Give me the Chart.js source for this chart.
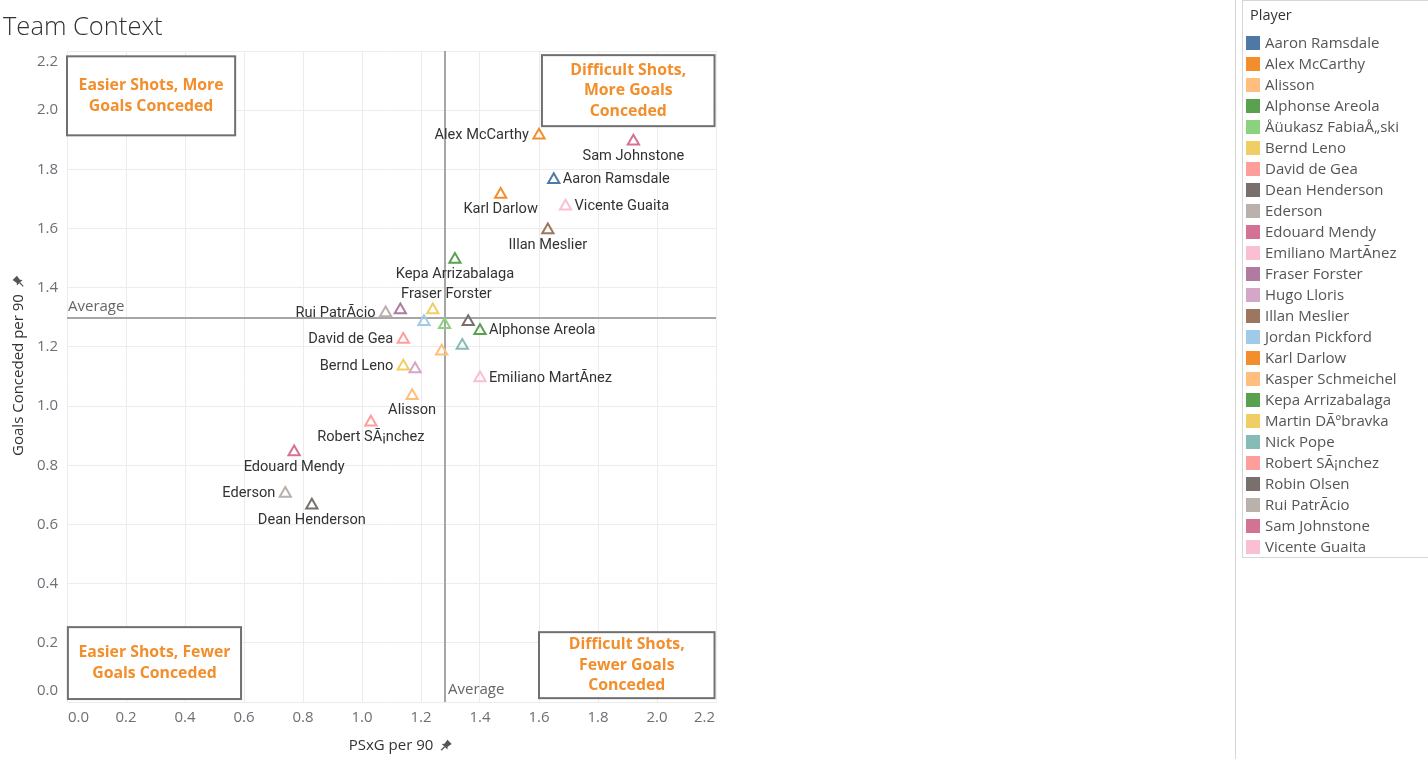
<!DOCTYPE html>
<html><head><meta charset="utf-8">
<script src="https://cdn.jsdelivr.net/npm/chart.js@4.4.1/dist/chart.umd.min.js"></script>
<style>
html,body{margin:0;padding:0;background:#fff;width:1428px;height:759px;overflow:hidden;}
#title{position:absolute;left:3px;top:7px;font-family:"Open Sans","Noto Sans",sans-serif;font-weight:300;font-size:25.5px;color:#333;line-height:36px;white-space:nowrap;}
#cv{position:absolute;left:0;top:0;}
#sep{position:absolute;left:1235px;top:0;width:1px;height:759px;background:#d6d6d6;}
#legend{position:absolute;left:1242px;top:0;width:190px;height:558px;border:1px solid #d6d6d6;box-sizing:border-box;font-family:"Open Sans","Noto Sans",sans-serif;font-size:15px;color:#555;}
#legend .hd{height:31px;line-height:28px;padding-left:7px;color:#333;font-size:14.5px;}
#legend .it{height:21px;line-height:21px;position:relative;padding-left:22px;white-space:nowrap;}
#legend .sw{position:absolute;left:3px;top:4px;width:14px;height:14px;}
</style></head>
<body>
<canvas id="cv" width="1428" height="759"></canvas>
<div id="title">Team Context</div>
<div id="sep"></div>
<div id="legend"><div class="hd">Player</div></div>
<script>
// ---------- data ----------
const players = ["Aaron Ramsdale","Alex McCarthy","Alisson","Alphonse Areola","Åüukasz FabiaÅ„ski","Bernd Leno","David de Gea","Dean Henderson","Ederson","Edouard Mendy","Emiliano MartÃnez","Fraser Forster","Hugo Lloris","Illan Meslier","Jordan Pickford","Karl Darlow","Kasper Schmeichel","Kepa Arrizabalaga","Martin DÃºbravka","Nick Pope","Robert SÃ¡nchez","Robin Olsen","Rui PatrÃcio","Sam Johnstone","Vicente Guaita"];
const colors = ["#4e79a7","#f28e2b","#ffbe7d","#59a14f","#8cd17d","#f1ce63","#ff9d9a","#79706e","#bab0ac","#d37295","#fabfd2","#b07aa1","#d4a6c8","#9d7660","#a0cbe8","#f28e2b","#ffbe7d","#59a14f","#f1ce63","#86bcb6","#ff9d9a","#79706e","#bab0ac","#d37295","#fabfd2"];
const psxgPer90 = [1.65,1.60,1.17,1.40,1.28,1.14,1.14,0.83,0.74,0.77,1.40,1.13,1.18,1.63,1.21,1.47,1.27,1.315,1.24,1.34,1.03,1.36,1.08,1.92,1.69];
const goalsConcededPer90 = [1.765,1.915,1.035,1.255,1.275,1.135,1.225,0.665,0.705,0.845,1.095,1.325,1.125,1.595,1.285,1.715,1.185,1.495,1.325,1.205,0.945,1.285,1.315,1.895,1.675];
const showLabel = [true,true,true,true,false,true,true,true,true,true,true,true,false,true,false,true,false,true,false,false,true,false,true,true,true];
const xTickValues = [0,0.2,0.4,0.6,0.8,1.0,1.2,1.4,1.6,1.8,2.0,2.2];
const xTickLabels = ["0.0","0.2","0.4","0.6","0.8","1.0","1.2","1.4","1.6","1.8","2.0","2.2"];
const yTickValues = [0,0.2,0.4,0.6,0.8,1.0,1.2,1.4,1.6,1.8,2.0,2.2];
const yTickLabels = ["0.0","0.2","0.4","0.6","0.8","1.0","1.2","1.4","1.6","1.8","2.0","2.2"];
const avgPsxg = 1.28;
const avgGoals = 1.297;
const quadrantTexts = [["Easier Shots, More","Goals Conceded"],["Difficult Shots,","More Goals","Conceded"],["Easier Shots, Fewer","Goals Conceded"],["Difficult Shots,","Fewer Goals","Conceded"]];
const xTitle = "PSxG per 90";
const yTitle = "Goals Conceded per 90";

// ---------- styling / placement ----------
const quadrantBoxes = [ // in axis units: x0,x1,y0,y1
  [0.0,0.57,1.915,2.182],[1.61,2.195,1.946,2.186],[0.003,0.59,0.01,0.253],[1.60,2.195,0.013,0.236]];
const labelPlace = {"Aaron Ramsdale":"R","Alex McCarthy":"L","Alisson":"B","Alphonse Areola":"R","Bernd Leno":"L","David de Gea":"L","Dean Henderson":"B","Ederson":"L","Edouard Mendy":"B","Emiliano MartÃnez":"R","Fraser Forster":"AR","Illan Meslier":"B","Karl Darlow":"B","Kepa Arrizabalaga":"B","Robert SÃ¡nchez":"B","Rui PatrÃcio":"L","Sam Johnstone":"B","Vicente Guaita":"R"};

// legend
const lg = document.getElementById('legend');
players.forEach((p,i)=>{
  const d=document.createElement('div');d.className='it';
  d.innerHTML='<span class="sw" style="background:'+colors[i]+'"></span>'+p;
  lg.appendChild(d);
});

function drawPin(ctx,x,y,rot){
  ctx.save();ctx.translate(x,y);ctx.rotate(rot);
  ctx.fillStyle='#555';ctx.strokeStyle='#555';ctx.lineWidth=1.2;
  ctx.beginPath();ctx.moveTo(-3,-6);ctx.lineTo(3,-6);ctx.lineTo(2.2,-1);ctx.lineTo(4,1);ctx.lineTo(-4,1);ctx.lineTo(-2.2,-1);ctx.closePath();ctx.fill();
  ctx.beginPath();ctx.moveTo(0,1);ctx.lineTo(0,6);ctx.stroke();
  ctx.restore();
}

const decor = {
  id:'decor',
  beforeDatasetsDraw(chart){
    const {ctx,scales:{x,y},chartArea:a}=chart;
    ctx.save();
    // average lines
    ctx.strokeStyle='#a6a6a6';ctx.lineWidth=2;
    const ax=Math.round(x.getPixelForValue(avgPsxg)), ay=Math.round(y.getPixelForValue(avgGoals));
    ctx.beginPath();ctx.moveTo(ax,a.top);ctx.lineTo(ax,a.bottom);ctx.stroke();
    ctx.beginPath();ctx.moveTo(a.left,ay);ctx.lineTo(a.right,ay);ctx.stroke();
    ctx.font='15px "Open Sans","Noto Sans",sans-serif';ctx.fillStyle='#666';
    ctx.textAlign='left';ctx.textBaseline='middle';
    ctx.fillText('Average',a.left+1,ay-11);
    ctx.fillText('Average',ax+3,a.bottom-12);
    // quadrant boxes
    quadrantBoxes.forEach((b,i)=>{
      const l=x.getPixelForValue(b[0]),r=x.getPixelForValue(b[1]),t=y.getPixelForValue(b[3]),bt=y.getPixelForValue(b[2]);
      ctx.fillStyle='#fff';ctx.fillRect(l,t,r-l,bt-t);
      ctx.strokeStyle='#707070';ctx.lineWidth=2;ctx.strokeRect(l,t,r-l,bt-t);
      const lines=quadrantTexts[i];const lh=20.5;const cy=(t+bt)/2;const cx=(l+r)/2;
      ctx.fillStyle='#f28e2b';ctx.font='bold 15.8px "Open Sans","Noto Sans",sans-serif';ctx.textAlign='center';ctx.textBaseline='middle';
      lines.forEach((s,k)=>ctx.fillText(s,cx,cy+(k-(lines.length-1)/2)*lh));
    });
    ctx.restore();
  },
  afterDatasetsDraw(chart){
    const {ctx,scales:{x,y},chartArea:a}=chart;
    const meta=chart.getDatasetMeta(0);
    ctx.save();
    ctx.font='14.6px Roboto,"Open Sans",sans-serif';ctx.fillStyle='#333';ctx.textBaseline='middle';
    players.forEach((p,i)=>{
      if(!showLabel[i])return;
      const pt=meta.data[i];const m=labelPlace[p];
      if(m==='L'){ctx.textAlign='right';ctx.fillText(p,pt.x-10,pt.y);}
      else if(m==='R'){ctx.textAlign='left';ctx.fillText(p,pt.x+9,pt.y);}
      else if(m==='B'){ctx.textAlign='center';ctx.fillText(p,pt.x,pt.y+15);}
      else if(m==='AR'){ctx.textAlign='center';ctx.fillText(p,pt.x+46,pt.y-16);}
    });
    // tick labels
    ctx.font='15px "Open Sans","Noto Sans",sans-serif';ctx.fillStyle='#6e6e78';
    xTickValues.forEach((v,i)=>{
      const px=x.getPixelForValue(v);
      ctx.textBaseline='middle';
      if(i===0){ctx.textAlign='left';ctx.fillText(xTickLabels[i],px+1,a.bottom+16);}
      else if(i===xTickValues.length-1){ctx.textAlign='right';ctx.fillText(xTickLabels[i],px-1,a.bottom+16);}
      else {ctx.textAlign='center';ctx.fillText(xTickLabels[i],px,a.bottom+16);}
    });
    yTickValues.forEach((v,i)=>{
      let py=y.getPixelForValue(v);
      if(i===0)py-=11; else if(i===yTickValues.length-1)py+=11;
      ctx.textAlign='right';ctx.textBaseline='middle';ctx.fillText(yTickLabels[i],a.left-9,py);
    });
    // axis titles
    ctx.fillStyle='#333';ctx.font='15px "Open Sans","Noto Sans",sans-serif';
    ctx.textAlign='center';ctx.textBaseline='middle';
    const xc=391;
    ctx.fillText(xTitle,xc,a.bottom+44);
    const w=ctx.measureText(xTitle).width;
    drawPin(ctx,xc+w/2+12,a.bottom+44,Math.PI/4);
    ctx.save();ctx.translate(19,375);ctx.rotate(-Math.PI/2);
    ctx.fillText(yTitle,0,0);
    const w2=ctx.measureText(yTitle).width;
    drawPin(ctx,w2/2+12,0,Math.PI/4);
    ctx.restore();
    ctx.restore();
  }
};

new Chart(document.getElementById('cv'),{
  type:'scatter',
  data:{datasets:[{
    data:psxgPer90.map((v,i)=>({x:v,y:goalsConcededPer90[i]})),
    pointStyle:'triangle',pointRadius:6.5,pointHoverRadius:6.5,pointBorderWidth:2,
    pointBorderColor:colors,pointBackgroundColor:'rgba(255,255,255,0)'
  }]},
  options:{
    responsive:false,animation:false,
    layout:{padding:{left:67,right:712,top:51,bottom:57}},
    plugins:{legend:{display:false},tooltip:{enabled:false}},
    scales:{
      x:{type:'linear',min:0,max:2.2,
        afterBuildTicks:(s)=>{s.ticks=xTickValues.map(v=>({value:v}));},
        ticks:{display:false},grid:{color:'#ececec',drawTicks:false},border:{display:false}},
      y:{type:'linear',min:0,max:2.2,
        afterBuildTicks:(s)=>{s.ticks=yTickValues.map(v=>({value:v}));},
        ticks:{display:false},grid:{color:'#ececec',drawTicks:false},border:{display:false}}
    }
  },
  plugins:[decor]
});
</script>
</body></html>
